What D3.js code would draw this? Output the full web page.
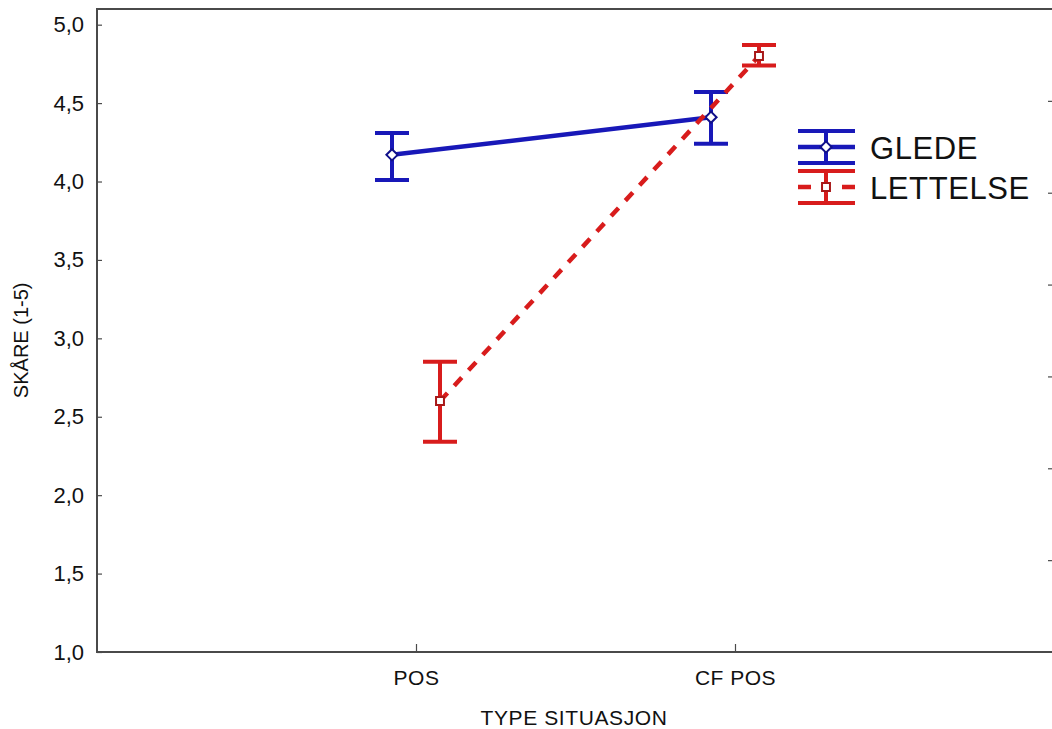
<!DOCTYPE html>
<html>
<head>
<meta charset="utf-8">
<script src="https://cdn.jsdelivr.net/npm/d3@7"></script>
<style>
  body { margin: 0; background: #fff; }
  svg text { font-family: "Liberation Sans", Arial, sans-serif; fill: #111; }
</style>
</head>
<body>
<div id="chart"></div>
<script>
// categories on the x axis
const categories = ["POS", "CF POS"];
// series names (legend)
const seriesNames = ["GLEDE", "LETTELSE"];
// means and 95% interval bounds per series, one per category
const gledeMean  = [4.17, 4.41];
const gledeLow   = [4.01, 4.24];
const gledeHigh  = [4.31, 4.57];
const lettMean   = [2.60, 4.80];
const lettLow    = [2.34, 4.74];
const lettHigh   = [2.85, 4.87];
// y axis tick labels
const yTicks = [1.0, 1.5, 2.0, 2.5, 3.0, 3.5, 4.0, 4.5, 5.0];

const width = 1052, height = 729;
const margin = {top: 9, right: -2, bottom: 77, left: 97};

const svg = d3.select("#chart").append("svg")
    .attr("width", width)
    .attr("height", height);

const innerW = width - margin.left - margin.right;
const innerH = height - margin.top - margin.bottom;

const g = svg.append("g").attr("transform", `translate(${margin.left},${margin.top})`);

const x = d3.scalePoint().domain(categories).range([0, innerW]).padding(1);
const y = d3.scaleLinear().domain([1, 5.1]).range([innerH, 0]);
// hidden right axis divides the height in seven equal steps
const yRight = d3.scaleLinear().domain([0, 7]).range([innerH, 0]);

const axisColor = "#4a4a4a";

// frame (right edge falls just outside the view)
g.append("rect")
    .attr("x", 0).attr("y", 0)
    .attr("width", innerW).attr("height", innerH)
    .attr("fill", "none")
    .attr("stroke", axisColor)
    .attr("stroke-width", 2);

// left axis, ticks pointing inward
const yAxis = g.append("g")
    .call(d3.axisLeft(y).tickValues(yTicks).tickSize(-5).tickPadding(13)
        .tickFormat(d => d3.format(".1f")(d).replace(".", ",")));
yAxis.select(".domain").remove();
yAxis.selectAll("line").attr("stroke", axisColor).attr("stroke-width", 1.2);
yAxis.selectAll("text").style("font-size", "22px").attr("fill", "#111");

// right axis ticks only
const rAxis = g.append("g")
    .attr("transform", `translate(${innerW},0)`)
    .call(d3.axisRight(yRight).tickValues([1, 2, 3, 4, 5, 6]).tickSize(-6).tickFormat(""));
rAxis.select(".domain").remove();
rAxis.selectAll("line").attr("stroke", axisColor).attr("stroke-width", 1.2);

// bottom axis
const xAxis = g.append("g")
    .attr("transform", `translate(0,${innerH})`)
    .call(d3.axisBottom(x).tickSize(-8).tickPadding(18));
xAxis.select(".domain").remove();
xAxis.selectAll("line").attr("stroke", axisColor).attr("stroke-width", 1.2);
xAxis.selectAll("text").style("font-size", "21px").style("letter-spacing", "0.5px").attr("fill", "#111");

// axis titles
svg.append("text")
    .attr("x", 574)
    .attr("y", 725)
    .attr("text-anchor", "middle")
    .style("font-size", "21px")
    .style("letter-spacing", "0.6px")
    .text("TYPE SITUASJON");

svg.append("text")
    .attr("transform", `translate(28,${margin.top + y(3.0) + 2}) rotate(-90)`)
    .attr("text-anchor", "middle")
    .style("font-size", "20px")
    .text("SKÅRE (1-5)");

const series = [
    {name: seriesNames[0], mean: gledeMean, low: gledeLow, high: gledeHigh,
     color: "#1818b8", dash: null, offset: -24, marker: "diamond"},
    {name: seriesNames[1], mean: lettMean, low: lettLow, high: lettHigh,
     color: "#d81c1c", dash: "11,10", offset: 24, marker: "square"}
];

const capW = 17;

series.forEach(s => {
    const pts = categories.map((c, i) => ({
        x: x(c) + s.offset, m: s.mean[i], lo: s.low[i], hi: s.high[i]
    }));
    const sg = g.append("g");

    // connecting line
    sg.append("path")
        .datum(pts)
        .attr("fill", "none")
        .attr("stroke", s.color)
        .attr("stroke-width", 4.5)
        .attr("stroke-dasharray", s.dash)
        .attr("d", d3.line().x(d => d.x).y(d => y(d.m)));

    // error bars
    const eb = sg.selectAll(".eb").data(pts).join("g");
    eb.append("line")
        .attr("x1", d => d.x).attr("x2", d => d.x)
        .attr("y1", d => y(d.lo)).attr("y2", d => y(d.hi))
        .attr("stroke", s.color).attr("stroke-width", 4);
    eb.append("line")
        .attr("x1", d => d.x - capW).attr("x2", d => d.x + capW)
        .attr("y1", d => y(d.hi)).attr("y2", d => y(d.hi))
        .attr("stroke", s.color).attr("stroke-width", 4);
    eb.append("line")
        .attr("x1", d => d.x - capW).attr("x2", d => d.x + capW)
        .attr("y1", d => y(d.lo)).attr("y2", d => y(d.lo))
        .attr("stroke", s.color).attr("stroke-width", 4);

    // markers
    const sym = s.marker === "diamond" ? d3.symbolDiamond2 : d3.symbolSquare2;
    eb.append("path")
        .attr("transform", d => `translate(${d.x},${y(d.m)})`)
        .attr("d", d3.symbol(sym, 80))
        .attr("fill", "#fff")
        .attr("stroke", s.marker === "diamond" ? "#10108a" : "#a81818")
        .attr("stroke-width", 2);
});

// legend
const legend = svg.append("g").attr("transform", "translate(798,131)");
series.forEach((s, i) => {
    const lg = legend.append("g").attr("transform", `translate(0,${i * 40})`);
    const sym = s.marker === "diamond" ? d3.symbolDiamond2 : d3.symbolSquare2;
    lg.append("line").attr("x1", 0).attr("x2", 57).attr("y1", 0).attr("y2", 0)
        .attr("stroke", s.color).attr("stroke-width", 4);
    lg.append("line").attr("x1", 0).attr("x2", 57).attr("y1", 32).attr("y2", 32)
        .attr("stroke", s.color).attr("stroke-width", 4);
    lg.append("line").attr("x1", 28).attr("x2", 28).attr("y1", 0).attr("y2", 32)
        .attr("stroke", s.color).attr("stroke-width", 4);
    lg.append("line").attr("x1", 0).attr("x2", 57).attr("y1", 16).attr("y2", 16)
        .attr("stroke", s.color).attr("stroke-width", 4.5)
        .attr("stroke-dasharray", s.dash ? "13,31,13" : null);
    lg.append("path")
        .attr("transform", "translate(28,16)")
        .attr("d", d3.symbol(sym, 80))
        .attr("fill", "#fff")
        .attr("stroke", s.marker === "diamond" ? "#10108a" : "#a81818")
        .attr("stroke-width", 2);
    lg.append("text")
        .attr("x", 72).attr("y", 17)
        .attr("dy", "0.36em")
        .style("font-size", "31px")
        .style("letter-spacing", "0.6px")
        .text(s.name);
});
</script>
</body>
</html>
